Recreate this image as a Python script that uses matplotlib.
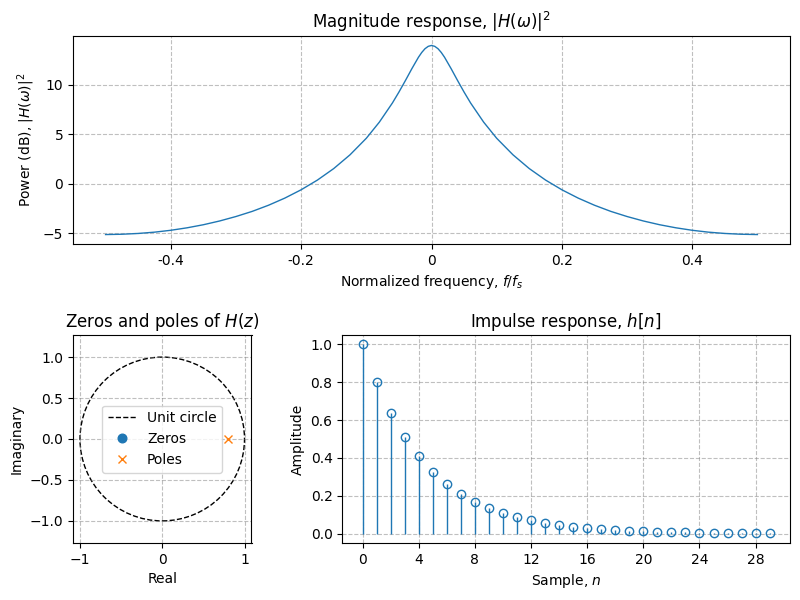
"""Filter summary figure: magnitude response, pole-zero plot, impulse response."""

import matplotlib

matplotlib.use("Agg")
import matplotlib.pyplot as plt
from matplotlib.lines import Line2D
from matplotlib.patches import Circle

# values
freq = [-0.5, -0.475, -0.45, -0.425, -0.4, -0.375, -0.35, -0.325, -0.3, -0.275,
        -0.25, -0.225, -0.2, -0.175, -0.15, -0.125, -0.1, -0.08, -0.06, -0.05,
        -0.04, -0.03, -0.02, -0.015, -0.01, -0.005, 0.0, 0.005, 0.01, 0.015,
        0.02, 0.03, 0.04, 0.05, 0.06, 0.08, 0.1, 0.125, 0.15, 0.175,
        0.2, 0.225, 0.25, 0.275, 0.3, 0.325, 0.35, 0.375, 0.4, 0.425,
        0.45, 0.475, 0.5]
power_db = [-5.11, -5.08, -5.0, -4.87, -4.68, -4.43, -4.12, -3.74, -3.29, -2.77,
            -2.15, -1.43, -0.59, 0.39, 1.55, 2.94, 4.61, 6.24, 8.17, 9.27,
            10.44, 11.65, 12.79, 13.27, 13.65, 13.89, 13.98, 13.89, 13.65, 13.27,
            12.79, 11.65, 10.44, 9.27, 8.17, 6.24, 4.61, 2.94, 1.55, 0.39,
            -0.59, -1.43, -2.15, -2.77, -3.29, -3.74, -4.12, -4.43, -4.68, -4.87,
            -5.0, -5.08, -5.11]
freq_ticks = [-0.4, -0.2, 0.0, 0.2, 0.4]
freq_ticklabels = ["-0.4", "-0.2", "0", "0.2", "0.4"]

# pole-zero plot
zeros_re = []
zeros_im = []
poles_re = [0.8]
poles_im = [0.0]

# impulse response
samples = list(range(30))
amplitude = [1.0, 0.8, 0.64, 0.512, 0.41, 0.328, 0.262, 0.21, 0.168, 0.134,
             0.107, 0.086, 0.069, 0.055, 0.044, 0.035, 0.028, 0.023, 0.018, 0.014,
             0.012, 0.009, 0.007, 0.006, 0.005, 0.004, 0.003, 0.002, 0.002, 0.002]
sample_ticks = [0, 4, 8, 12, 16, 20, 24, 28]

GRID = dict(color="0.5", alpha=0.5, linestyle="--", linewidth=0.8)


def axes_px(fig, left, top, right, bottom):
    """Add axes from pixel edges, measured from the top left of the figure."""
    w, h = fig.get_size_inches() * fig.dpi
    return fig.add_axes([left / w, 1 - bottom / h, (right - left) / w, (bottom - top) / h])


fig = plt.figure(figsize=(8, 6), dpi=100)

# Magnitude response
ax = axes_px(fig, 73, 36, 790, 244)
ax.plot(freq, power_db, color="C0", linewidth=1.0)
ax.set_xticks(freq_ticks)
ax.set_xticklabels(freq_ticklabels)
ax.set_title(r"Magnitude response, $|H(\omega)|^2$")
ax.set_xlabel(r"Normalized frequency, $f/f_s$")
ax.set_ylabel(r"Power (dB), $|H(\omega)|^2$")
ax.grid(True, **GRID)

# Zeros and poles
ax = axes_px(fig, 73, 335, 251.5, 543)
ax.add_patch(Circle((0, 0), 1.0, fill=False, edgecolor="k", linestyle="--", linewidth=1.0))
ax.plot(zeros_re, zeros_im, "o", color="C0", markersize=6.2)
ax.plot(poles_re, poles_im, "x", color="C1", markersize=6.2)
ax.set_xlim(-1.085, 1.085)
ax.set_ylim(-1.27, 1.27)
ax.set_xticks([-1, 0, 1])
ax.set_yticks([-1.0, -0.5, 0.0, 0.5, 1.0])
ax.set_title(r"Zeros and poles of $H(z)$")
ax.set_xlabel("Real")
ax.set_ylabel("Imaginary")
ax.grid(True, **GRID)
handles = [
    Line2D([], [], color="k", linestyle="--", linewidth=1.0),
    Line2D([], [], color="C0", marker="o", linestyle="none", markersize=6.2),
    Line2D([], [], color="C1", marker="x", linestyle="none", markersize=6.2),
]
ax.legend(handles, ["Unit circle", "Zeros", "Poles"], loc="center")

# Impulse response
ax = axes_px(fig, 342.3, 335, 790, 543)
markers, stems, base = ax.stem(samples, amplitude, basefmt=" ")
markers.set_markerfacecolor("none")
stems.set_linewidth(1.0)
ax.set_xticks(sample_ticks)
ax.set_title(r"Impulse response, $h[n]$")
ax.set_xlabel(r"Sample, $n$")
ax.set_ylabel("Amplitude")
ax.grid(True, **GRID)

fig.savefig("out.png", dpi=100)
